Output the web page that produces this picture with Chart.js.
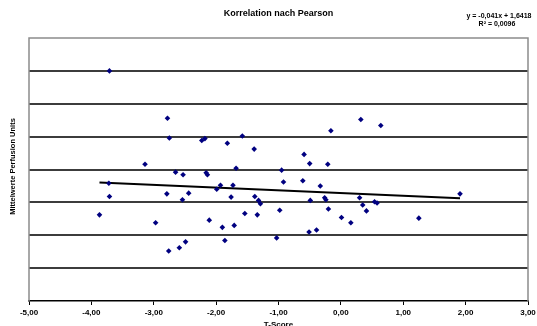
<!DOCTYPE html>
<html>
<head>
<meta charset="utf-8">
<title>Korrelation nach Pearson</title>
<script src="https://cdn.jsdelivr.net/npm/chart.js@4"></script>
<style>
  html, body { margin: 0; padding: 0; background: #fff; }
  canvas { display: block; }
</style>
</head>
<body>
<canvas id="pearsonChart" width="537" height="326"></canvas>
<script>
// T-Score and mean perfusion units per measurement
const tScores = [
  -3.71, -2.78, -2.75, -3.14, -2.65, -3.72, -3.71, -2.79, -3.87, -2.97,
  -2.76, -2.59, -2.23, -2.18, -1.82, -1.58, -1.39, -0.59, -0.50, -1.68,
  -0.95, -2.53, -2.16, -2.14, -0.92, -0.61, -0.33, -1.93, -1.99, -1.73,
  -2.44, -2.54, -1.76, -1.38, -1.32, -1.29, -0.49, -0.26, -0.24, -0.98,
  -1.54, -1.34, -2.11, -1.90, -1.71, -0.51, -0.39, -1.03, -2.49, -1.86,
  -0.16, 0.32, 0.64, -0.21, -0.20, 0.01, 0.16, 0.30, 0.35, 0.41,
  0.54, 0.58, 1.25, 1.91
];
const perfusion = [
  3.50, 2.78, 2.48, 2.08, 1.96, 1.79, 1.59, 1.63, 1.31, 1.19,
  0.76, 0.81, 2.44, 2.47, 2.40, 2.51, 2.31, 2.23, 2.09, 2.02,
  1.99, 1.92, 1.95, 1.92, 1.81, 1.83, 1.75, 1.76, 1.70, 1.76,
  1.64, 1.54, 1.58, 1.59, 1.53, 1.48, 1.53, 1.57, 1.54, 1.38,
  1.33, 1.31, 1.23, 1.12, 1.15, 1.05, 1.08, 0.96, 0.90, 0.92,
  2.59, 2.76, 2.67, 2.08, 1.40, 1.27, 1.19, 1.57, 1.46, 1.37,
  1.51, 1.49, 1.26, 1.63
];

// linear trend as stated in the label
const trendSlope = -0.041;
const trendIntercept = 1.6418;
const rSquared = 0.0096;

const xTickValues = [-5, -4, -3, -2, -1, 0, 1, 2, 3];
const yGridValues = [0, 0.5, 1, 1.5, 2, 2.5, 3, 3.5, 4];

const deNum = (v, d) => v.toFixed(d).replace('.', ',');

const points = tScores.map((t, i) => ({ x: t, y: perfusion[i] }));
const xMin = Math.min(...tScores);
const xMax = Math.max(...tScores);
const trendPoints = [xMin, xMax].map(x => ({ x: x, y: trendSlope * x + trendIntercept }));

const FONT = 'Arial, "Liberation Sans", sans-serif';

// frame, heading, equation and axis titles
const textPlugin = {
  id: 'texts',
  beforeDatasetsDraw(chart) {
    const { ctx, chartArea: a } = chart;
    ctx.save();
    ctx.strokeStyle = '#8c8c8c';
    ctx.lineWidth = 1.5;
    ctx.beginPath();
    ctx.moveTo(a.left, a.bottom);
    ctx.lineTo(a.left, a.top);
    ctx.lineTo(a.right, a.top);
    ctx.lineTo(a.right, a.bottom);
    ctx.stroke();
    ctx.restore();
  },
  afterDraw(chart) {
    const { ctx, chartArea: a } = chart;
    ctx.save();
    ctx.fillStyle = '#000';
    ctx.textAlign = 'center';
    ctx.textBaseline = 'middle';

    ctx.font = 'bold 9px ' + FONT;
    ctx.fillText('Korrelation nach Pearson', (a.left + a.right) / 2, 14);

    ctx.font = 'bold 7px ' + FONT;
    const sign = trendIntercept < 0 ? '-' : '+';
    ctx.fillText('y = ' + deNum(trendSlope, 3) + 'x ' + sign + ' ' + deNum(Math.abs(trendIntercept), 4), 499, 16);
    ctx.fillText('R\u00b2 = ' + deNum(rSquared, 4), 497, 24);

    ctx.font = 'bold 8px ' + FONT;
    ctx.fillText('T-Score', (a.left + a.right) / 2, 325);

    ctx.translate(13, (a.top + a.bottom) / 2 - 3);
    ctx.rotate(-Math.PI / 2);
    ctx.font = 'bold 7.5px ' + FONT;
    ctx.fillText('Mittelwerte Perfusion Units', 0, 0);
    ctx.restore();
  }
};

new Chart(document.getElementById('pearsonChart'), {
  type: 'scatter',
  data: {
    datasets: [{
      label: 'Perfusion',
      data: points,
      pointStyle: 'rectRot',
      pointRadius: 2.8,
      backgroundColor: '#000080',
      borderColor: '#000080',
      borderWidth: 0
    }, {
      type: 'line',
      label: 'Trend',
      data: trendPoints,
      borderColor: '#000',
      borderWidth: 2,
      pointRadius: 0,
      fill: false
    }]
  },
  options: {
    responsive: false,
    animation: false,
    layout: { padding: { top: 38, right: 9, left: 0, bottom: 0 } },
    plugins: {
      legend: { display: false },
      tooltip: { enabled: false }
    },
    scales: {
      x: {
        type: 'linear',
        min: xTickValues[0],
        max: xTickValues[xTickValues.length - 1],
        afterBuildTicks: s => { s.ticks = xTickValues.map(v => ({ value: v })); },
        afterFit: s => { s.height = 25; s.paddingLeft = 0; s.paddingRight = 0; },
        ticks: {
          callback: v => deNum(v, 2),
          font: { family: FONT, size: 8, weight: 'bold' },
          color: '#000',
          padding: 3,
          maxRotation: 0,
          autoSkip: false
        },
        grid: { drawOnChartArea: false, tickLength: 4, tickColor: '#000', tickWidth: 1 },
        border: { color: '#000', width: 1.5 }
      },
      y: {
        type: 'linear',
        min: yGridValues[0],
        max: yGridValues[yGridValues.length - 1],
        afterBuildTicks: s => { s.ticks = yGridValues.map(v => ({ value: v })); },
        afterFit: s => { s.width = 29; },
        ticks: { display: false },
        grid: {
          drawTicks: false,
          lineWidth: 2,
          color: c => (c.tick && (c.tick.value === 0 || c.tick.value === 4)) ? 'rgba(0,0,0,0)' : '#3c3c3c'
        },
        border: { display: false }
      }
    }
  },
  plugins: [textPlugin]
});
</script>
</body>
</html>
